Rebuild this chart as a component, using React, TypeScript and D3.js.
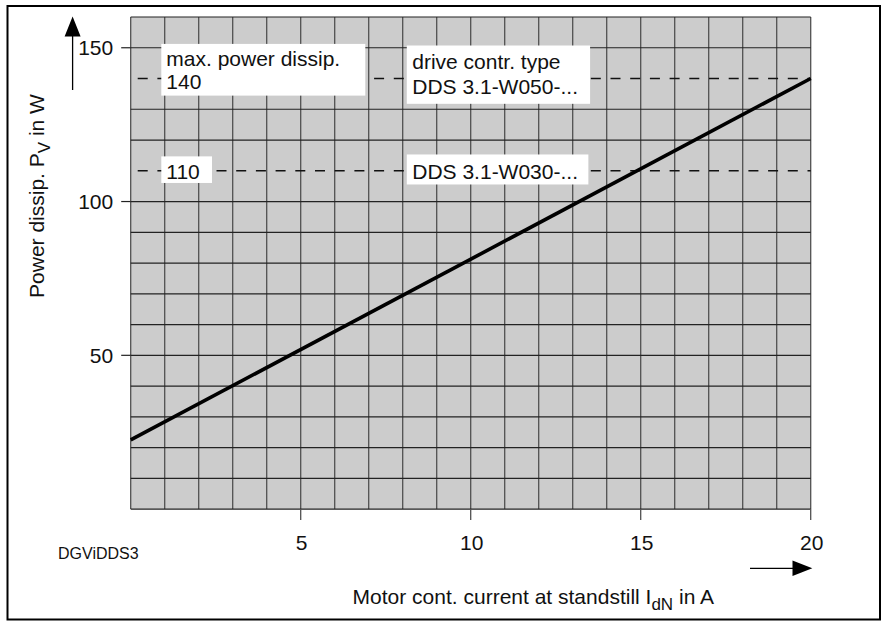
import React from "react";
import * as d3 from "d3";

// ---- data ----
const currentA: number[] = [0, 20];
const powerW: number[] = [22.5, 140];
const xTickValues: number[] = [5, 10, 15, 20];
const yTickValues: number[] = [50, 100, 150];
const limitPowers: number[] = [140, 110];
const limitValueLabels: string[] = ["140", "110"];
const driveTypes: string[] = ["DDS 3.1-W050-...", "DDS 3.1-W030-..."];
const xDomain: [number, number] = [0, 20];
const yDomain: [number, number] = [0, 160];
const yGridStep = 10;
const xGridStep = 1;

const W = 882;
const H = 622;
const FONT = "'Liberation Sans', Arial, Helvetica, sans-serif";
const FS = 21;

export default function App() {
  const x = d3.scaleLinear().domain(xDomain).range([130.7, 810.7]);
  const y = d3.scaleLinear().domain(yDomain).range([509.1, 17]);

  const xGrid = d3.range(xDomain[0], xDomain[1] + 0.001, xGridStep);
  const yGrid = d3
    .range(yDomain[0], yDomain[1] + 0.001, yGridStep)
    .filter((v) => !limitPowers.includes(v));

  const line = d3
    .line<number>()
    .x((_, i) => x(currentA[i]))
    .y((d) => y(d));

  const [x0, x1] = x.range();
  const [yb, yt] = y.range();

  return (
    <svg
      width={W}
      height={H}
      viewBox={`0 0 ${W} ${H}`}
      style={{ position: "absolute", left: 0, top: 0, display: "block", background: "#fff" }}
      fontFamily={FONT}
    >
      {/* outer frame */}
      <rect x={7.5} y={6} width={872.5} height={613.5} fill="none" stroke="#000" strokeWidth={2} />

      {/* plot background */}
      <rect x={x0} y={yt} width={x1 - x0} height={yb - yt} fill="#cccccc" />

      {/* vertical grid */}
      {xGrid.map((v) => (
        <line key={"vx" + v} x1={x(v)} x2={x(v)} y1={yt} y2={yb} stroke="#505050" strokeWidth={1.3} />
      ))}
      {/* horizontal grid */}
      {yGrid.map((v) => (
        <line key={"hy" + v} x1={x0} x2={x1} y1={y(v)} y2={y(v)} stroke="#222" strokeWidth={1.2} />
      ))}

      {/* dashed limit lines */}
      {limitPowers.map((v) => (
        <line
          key={"lim" + v}
          x1={x0}
          x2={x1}
          y1={y(v)}
          y2={y(v)}
          stroke="#111"
          strokeWidth={1.4}
          strokeDasharray="10 9.7"
          strokeDashoffset={12.7}
        />
      ))}

      {/* y ticks */}
      {yTickValues.map((v) => (
        <g key={"yt" + v}>
          <line x1={x0 - 9.5} x2={x0} y1={y(v)} y2={y(v)} stroke="#222" strokeWidth={1.2} />
          <text x={x0 - 17.5} y={y(v) + 7.3} textAnchor="end" fontSize={FS} fill="#111">
            {v}
          </text>
        </g>
      ))}

      {/* x ticks */}
      {xTickValues.map((v) => (
        <g key={"xt" + v}>
          <line x1={x(v)} x2={x(v)} y1={yb} y2={yb + 11} stroke="#505050" strokeWidth={1.3} />
          <text x={x(v) + 1} y={yb + 41} textAnchor="middle" fontSize={FS} fill="#111">
            {v}
          </text>
        </g>
      ))}

      {/* label boxes */}
      <g>
        <rect x={x(0.9)} y={y(140) - 34.6} width={204} height={51.7} fill="#fff" />
        <text x={x(0.9) + 5} y={y(140) - 12.6} fontSize={FS} fill="#111">
          max. power dissip.
        </text>
        <text x={x(0.9) + 5} y={y(140) + 10.4} fontSize={FS} fill="#111">
          {limitValueLabels[0]}
        </text>

        <rect x={x(0.9)} y={y(110) - 14.4} width={50.7} height={26.6} fill="#fff" />
        <text x={x(0.9) + 5} y={y(110) + 8} fontSize={FS} fill="#111">
          {limitValueLabels[1]}
        </text>

        <rect x={x(8.12)} y={y(140) - 33} width={183.3} height={58.3} fill="#fff" />
        <text x={x(8.12) + 5.5} y={y(140) - 9.6} fontSize={FS} fill="#111">
          drive contr. type
        </text>
        <text x={x(8.12) + 5.5} y={y(140) + 15.4} fontSize={FS} fill="#111">
          {driveTypes[0]}
        </text>

        <rect x={x(8.12)} y={y(110) - 16.3} width={181.6} height={30} fill="#fff" />
        <text x={x(8.12) + 5.5} y={y(110) + 8.7} fontSize={FS} fill="#111">
          {driveTypes[1]}
        </text>
      </g>

      {/* characteristic line */}
      <path d={line(powerW) || ""} fill="none" stroke="#000" strokeWidth={3.6} />

      {/* y-axis arrow */}
      <line x1={72.6} x2={72.6} y1={90} y2={34} stroke="#000" strokeWidth={1.3} />
      <path d="M72.6,16.5 L80.6,36.5 L64.6,36.5 Z" fill="#000" />

      {/* y-axis title */}
      <text
        transform="translate(43.5,196) rotate(-90)"
        textAnchor="middle"
        fontSize={FS}
        fill="#111"
      >
        Power dissip. P<tspan fontSize={17} dy={6}>V</tspan>
        <tspan dy={-6}> in W</tspan>
      </text>

      {/* x-axis arrow */}
      <line x1={750} x2={794} y1={568.3} y2={568.3} stroke="#000" strokeWidth={1.3} />
      <path d="M812.3,568.3 L792.5,560.6 L792.5,576 Z" fill="#000" />

      {/* x-axis title */}
      <text x={714} y={604} textAnchor="end" fontSize={FS} fill="#111">
        Motor cont. current at standstill I<tspan fontSize={17} dy={6}>dN</tspan>
        <tspan dy={-6}> in A</tspan>
      </text>

      {/* drawing id */}
      <text x={58} y={559.3} fontSize={16} fill="#111">
        DGViDDS3
      </text>
    </svg>
  );
}
